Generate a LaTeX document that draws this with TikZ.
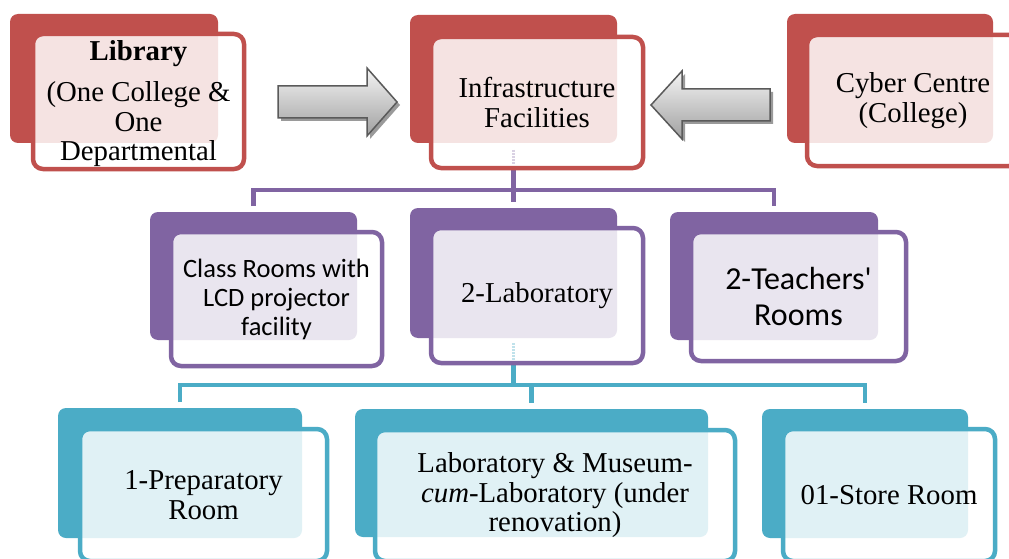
\documentclass[tikz,border=0pt]{standalone}
\usepackage{fontspec}
\setmainfont{Liberation Serif}
\newfontfamily\calfont{Carlito}
\usetikzlibrary{calc}
\definecolor{accred}{HTML}{C0504D}
\definecolor{accpurple}{HTML}{8064A2}
\definecolor{acccyan}{HTML}{4BACC6}
\definecolor{arrowline}{HTML}{5A5A5A}
\definecolor{arrowshadow}{HTML}{9A9A9A}
\definecolor{arrowtop}{HTML}{F4F4F4}
\definecolor{arrowbot}{HTML}{A0A0A0}
\colorlet{tintred}{accred!16!white}
\colorlet{tintpurple}{accpurple!17!white}
\colorlet{tintcyan}{acccyan!17!white}
\tikzset{
  backbox/.style={fill=#1, draw=none, rounded corners=8pt, inner sep=0pt, outer sep=0pt},
  frontbox/.style n args={3}{draw=#1, line width=4.5pt, fill=white, rounded corners=10pt,
    inner sep=0pt, outer sep=0pt, align=center,
    path picture={\fill[#2, rounded corners=8pt] (#3.south west) rectangle (#3.north east);}},
  sertext/.style={font=\fontsize{28.8pt}{29.5pt}\selectfont},
  caltext/.style={font=\calfont\fontsize{26.5pt}{29pt}\selectfont},
  calbig/.style={font=\calfont\fontsize{32pt}{36pt}\selectfont},
  conn/.style={draw=#1, line width=4.5pt},
  artifact/.style={draw=#1, line width=3pt, dash pattern=on 1.5pt off 1.5pt},
  blockarrow/.style={top color=arrowtop, bottom color=arrowbot, draw=arrowline, line width=1.5pt},
  arrowshade/.style={fill=arrowshadow}
}
\begin{document}
\begin{tikzpicture}[x=1pt,y=-1pt]
\path[use as bounding box] (0,0) rectangle (1009,559);
\clip (0,0) rectangle (1009,559);
\fill[white] (0,0) rectangle (1009,559);

% ---------- back shapes ----------
\node[backbox=accred, minimum width=208pt, minimum height=129pt] (libB) at (114,78.5) {};
\node[backbox=accred, minimum width=207pt, minimum height=128pt] (infraB) at (513.5,79) {};
\node[backbox=accred, minimum width=206pt, minimum height=129pt] (cyberB) at (890,78.5) {};
\node[backbox=accpurple, minimum width=207pt, minimum height=128pt] (classB) at (253.5,276) {};
\node[backbox=accpurple, minimum width=207pt, minimum height=130pt] (labB) at (513.5,273) {};
\node[backbox=accpurple, minimum width=208pt, minimum height=128pt] (teachB) at (774,276) {};
\node[backbox=acccyan, minimum width=244pt, minimum height=130pt] (prepB) at (180,473) {};
\node[backbox=acccyan, minimum width=353pt, minimum height=128pt] (museB) at (531.5,473) {};
\node[backbox=acccyan, minimum width=206pt, minimum height=129pt] (storeB) at (865,473.5) {};

% ---------- connectors ----------
\draw[conn=accpurple] (infraB.south) -- ($(labB.north)+(0,-6)$);
\draw[conn=accpurple] ($(classB.north)+(0,-6)$) |- ($(teachB.north)+(0,-22)$) -- ($(teachB.north)+(0,-6)$);
\draw[conn=acccyan] (labB.south) -- ($(labB.south)+(0,47)$);
\draw[conn=acccyan] ($(prepB.north)+(0,-6)$) |- ($(storeB.north)+(0,-24)$) -- ($(storeB.north)+(0,-6)$);
\draw[conn=acccyan] ($(museB.north)+(0,-24)$) -- ($(museB.north)+(0,-6)$);

% ---------- front shapes ----------
\node[frontbox={accred}{tintred}{libB}, minimum width=211pt, minimum height=135pt] (lib) at (138.5,101.5) {};
\node[sertext, align=center] (libtext) at ($(lib.center)+(0,2)$)
  {\textbf{Library}\\[12pt](One College \&\\One\\Departmental};
\node[frontbox={accred}{tintred}{infraB}, minimum width=212pt, minimum height=131pt, sertext] (infra) at (537,102.5)
  {Infrastructure\\Facilities};
\node[frontbox={accred}{tintred}{cyberB}, minimum width=212pt, minimum height=131pt, sertext] (cyber) at (913,100.5)
  {Cyber Centre\\(College)};
\node[frontbox={accpurple}{tintpurple}{classB}, minimum width=211pt, minimum height=134pt, caltext] (class) at (276.5,299)
  {Class Rooms with\\LCD projector\\facility};
\node[frontbox={accpurple}{tintpurple}{labB}, minimum width=212pt, minimum height=135pt, sertext] (lab) at (537,295.5)
  {2-Laboratory};
\node[frontbox={accpurple}{tintpurple}{teachB}, minimum width=215pt, minimum height=129pt, calbig] (teach) at (798.5,296.5)
  {2-Teachers'\\Rooms};
\node[frontbox={acccyan}{tintcyan}{prepB}, minimum width=247pt, minimum height=132pt, sertext] (prep) at (203.5,495)
  {1-Preparatory\\Room};
\node[frontbox={acccyan}{tintcyan}{museB}, minimum width=360pt, minimum height=131pt, sertext] (muse) at (555,495.5)
  {Laboratory \& Museum-\\\textit{cum}-Laboratory (under\\renovation)};
\node[frontbox={acccyan}{tintcyan}{storeB}, minimum width=212pt, minimum height=132pt, sertext] (store) at (889,495)
  {01-Store Room};

% faint connector traces inside the boxes
\draw[artifact=accpurple!30] ($(infraB.south)+(0,7)$) -- ($(infraB.south)+(0,22)$);
\draw[artifact=acccyan!35] ($(labB.south)+(0,5)$) -- ($(labB.south)+(0,23)$);

% ---------- block arrows ----------
\fill[arrowshade, shift={(3,3)}] (278,86) -- (367,86) -- (367,68) -- (397,102) -- (367,136) -- (367,118) -- (278,118) -- cycle;
\path[blockarrow] (278,86) -- (367,86) -- (367,68) -- (397,102) -- (367,136) -- (367,118) -- (278,118) -- cycle;
\fill[arrowshade, shift={(3,3)}] (770,89) -- (682,89) -- (682,71) -- (651,105) -- (682,139) -- (682,121) -- (770,121) -- cycle;
\path[blockarrow] (770,89) -- (682,89) -- (682,71) -- (651,105) -- (682,139) -- (682,121) -- (770,121) -- cycle;
\end{tikzpicture}
\end{document}
